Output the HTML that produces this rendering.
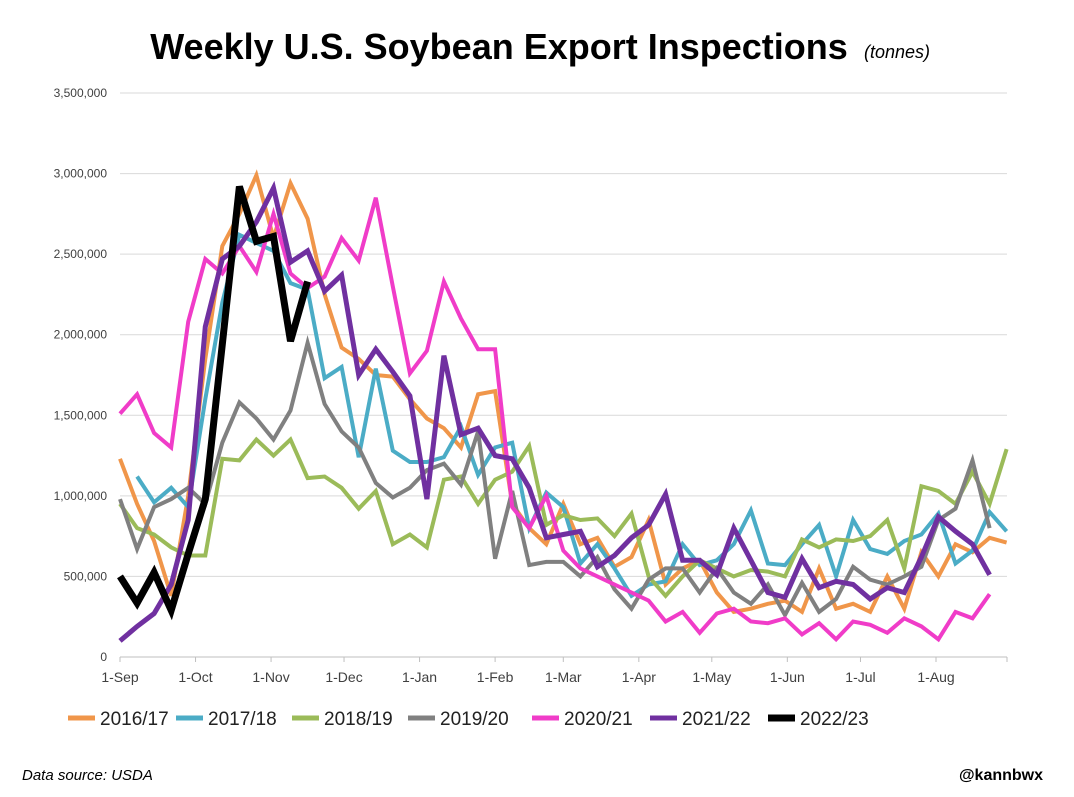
<!DOCTYPE html>
<html><head><meta charset="utf-8"><style>
body{margin:0;background:#fff;font-family:"Liberation Sans",sans-serif;}
svg{display:block}
</style></head><body>
<svg width="1074" height="797" xmlns="http://www.w3.org/2000/svg">
<text x="499" y="59" text-anchor="middle" font-size="36" font-weight="bold">Weekly U.S. Soybean Export Inspections</text>
<text x="864" y="58" font-size="18" font-style="italic">(tonnes)</text>
<g id="grid"></g><g id="series"></g><g id="legend"></g>
<text x="22" y="780" font-size="15" font-style="italic">Data source: USDA</text>
<text x="1043" y="780" font-size="16" font-weight="bold" text-anchor="end">@kannbwx</text>
</svg>
<script>
const yTicks=[0,500000,1000000,1500000,2000000,2500000,3000000,3500000];
const xLabels=["1-Sep","1-Oct","1-Nov","1-Dec","1-Jan","1-Feb","1-Mar","1-Apr","1-May","1-Jun","1-Jul","1-Aug"];
const xLabelWeeks=[0,4.43,8.86,13.14,17.57,22,26,30.43,34.71,39.14,43.43,47.86];
const seriesNames=["2016/17","2017/18","2018/19","2019/20","2020/21","2021/22","2022/23"];
const s1617=[1.23,0.95,0.72,0.38,1.00,1.85,2.55,2.75,2.99,2.60,2.94,2.72,2.25,1.92,1.85,1.75,1.74,1.60,1.48,1.42,1.30,1.63,1.65,0.95,0.80,0.70,0.95,0.70,0.74,0.56,0.62,0.85,0.45,0.55,0.60,0.40,0.28,0.30,0.33,0.35,0.28,0.55,0.30,0.33,0.28,0.50,0.30,0.65,0.50,0.70,0.65,0.74,0.71];
const s1718=[null,1.12,0.96,1.05,0.93,1.60,2.20,2.62,2.57,2.52,2.32,2.28,1.73,1.80,1.24,1.79,1.28,1.21,1.21,1.24,1.43,1.13,1.30,1.33,0.80,1.02,0.93,0.58,0.70,0.55,0.38,0.45,0.47,0.70,0.57,0.60,0.70,0.91,0.58,0.57,0.70,0.82,0.50,0.85,0.67,0.64,0.72,0.76,0.89,0.58,0.66,0.90,0.78];
const s1819=[0.95,0.80,0.76,0.68,0.63,0.63,1.23,1.22,1.35,1.25,1.35,1.11,1.12,1.05,0.92,1.03,0.70,0.76,0.68,1.10,1.12,0.95,1.10,1.15,1.31,0.82,0.88,0.85,0.86,0.75,0.89,0.50,0.38,0.50,0.60,0.55,0.50,0.54,0.53,0.50,0.73,0.68,0.73,0.72,0.75,0.85,0.55,1.06,1.03,0.95,1.15,0.95,1.29];
const s1920=[0.98,0.67,0.93,0.98,1.05,0.95,1.33,1.58,1.48,1.35,1.53,1.95,1.57,1.40,1.30,1.08,0.99,1.05,1.16,1.20,1.07,1.40,0.61,1.03,0.57,0.59,0.59,0.50,0.62,0.42,0.30,0.48,0.55,0.55,0.40,0.55,0.40,0.33,0.45,0.26,0.46,0.28,0.36,0.56,0.48,0.45,0.50,0.56,0.85,0.92,1.22,0.80];
const s2021=[1.51,1.63,1.39,1.30,2.08,2.47,2.38,2.55,2.39,2.75,2.38,2.29,2.36,2.60,2.46,2.85,2.30,1.76,1.90,2.33,2.10,1.91,1.91,0.93,0.80,1.00,0.66,0.55,0.50,0.45,0.40,0.35,0.22,0.28,0.15,0.27,0.30,0.22,0.21,0.24,0.14,0.21,0.11,0.22,0.20,0.15,0.24,0.19,0.11,0.28,0.24,0.39];
const s2122=[0.10,0.19,0.27,0.45,0.85,2.05,2.47,2.55,2.70,2.91,2.45,2.52,2.27,2.37,1.75,1.91,1.77,1.62,0.98,1.87,1.38,1.42,1.25,1.23,1.05,0.74,0.76,0.78,0.56,0.63,0.74,0.82,1.01,0.60,0.60,0.51,0.80,0.60,0.40,0.37,0.61,0.43,0.47,0.45,0.36,0.43,0.40,0.62,0.87,0.78,0.70,0.51];
const s2223=[0.50,0.335,0.525,0.29,0.64,0.98,1.94,2.92,2.58,2.61,1.96,2.33];
const colors=["#f0964a","#4bacc6","#9bbb59","#808080","#f03cc8","#7030a0","#000000"];
const widths=[4,4,4,4,4,5,7];
const allSeries=[s1617,s1718,s1819,s1920,s2021,s2122,s2223];
const NS="http://www.w3.org/2000/svg";
const X0=120,XW=17.05,Y0=657,YMAX=3500000,YH=564;
const xs=i=>X0+i*XW;
const ys=v=>Y0-v/YMAX*YH;
function mk(t,a,p){const e=document.createElementNS(NS,t);for(const k in a)e.setAttribute(k,a[k]);p.appendChild(e);return e;}
const grid=document.getElementById('grid');
yTicks.forEach(v=>{
 const l=mk('line',{x1:X0,x2:1007,y1:ys(v),y2:ys(v),stroke:v?'#d9d9d9':'#bfbfbf','stroke-width':1},grid);
 
 
 const t=mk('text',{x:107,y:ys(v)+4,'text-anchor':'end','font-size':12,fill:'#404040'},grid);
 t.textContent=v.toLocaleString('en-US');
 
 
});
xLabels.forEach((lab,i)=>{
 const x=xs(xLabelWeeks[i]);
 const tk=mk('line',{x1:x,x2:x,y1:Y0,y2:Y0+5,stroke:'#bfbfbf'},grid);
 
 
 const t=mk('text',{x:x,y:682,'text-anchor':'middle','font-size':14,fill:'#404040'},grid);
 t.textContent=lab;
 
 
});
mk('line',{x1:1007,x2:1007,y1:Y0,y2:Y0+5,stroke:'#bfbfbf'},grid);
const sg=document.getElementById('series');
allSeries.forEach((arr,k)=>{
 let d='';let pen=false;
 arr.forEach((v,i)=>{if(v==null){pen=false;return;}d+=(pen?'L':'M')+xs(i).toFixed(1)+' '+ys(v*1e6).toFixed(1)+' ';pen=true;});
 const p=mk('path',{d:d,fill:'none',stroke:colors[k],'stroke-width':widths[k],'stroke-linejoin':'miter','stroke-linecap':'butt'},sg);
 
 
});
const lg=document.getElementById('legend');
const lx=[68,176,292,408,532,650,768];
seriesNames.forEach((n,k)=>{
 const g=mk('g',{},lg);
 
 
 mk('line',{x1:lx[k],x2:lx[k]+27,y1:718,y2:718,stroke:colors[k],'stroke-width':k==6?7:5},g);
 const t=mk('text',{x:lx[k]+32,y:725,'font-size':19,fill:'#222'},g);
 t.textContent=n;
});
</script>
</body></html>
